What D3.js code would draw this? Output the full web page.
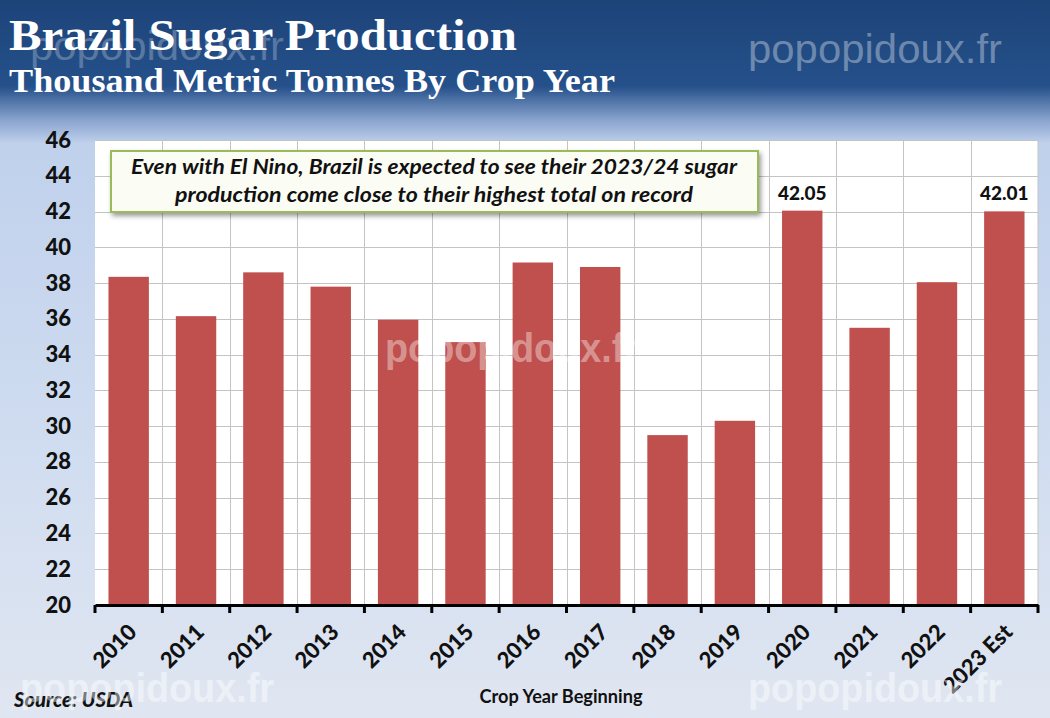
<!DOCTYPE html>
<html>
<head>
<meta charset="utf-8">
<script src="https://cdn.jsdelivr.net/npm/d3@7"></script>
<style>
  body { margin: 0; }
  svg { display: block; }
</style>
</head>
<body>
<svg></svg>
<script>
// chart data
const years = ['2010', '2011', '2012', '2013', '2014', '2015', '2016', '2017',
               '2018', '2019', '2020', '2021', '2022', '2023 Est'];
const production = [38.35, 36.15, 38.6, 37.8, 35.95, 34.7, 39.15, 38.9,
                    29.5, 30.3, 42.05, 35.5, 38.05, 42.01];
const labelled = ['2020', '2023 Est'];
const yTicks = [20, 22, 24, 26, 28, 30, 32, 34, 36, 38, 40, 42, 44, 46];

const size = {w: 1050, h: 718};
const plot = {l: 95, r: 1038, t: 140, b: 605};
const font = 'Lato, Open Sans, sans-serif';

const svg = d3.select('svg')
    .attr('width', size.w)
    .attr('height', size.h);

// background gradient (dark header fading to light blue)
const defs = svg.append('defs');
const bg = defs.append('linearGradient')
    .attr('id', 'bg')
    .attr('x1', 0).attr('x2', 0).attr('y1', 0).attr('y2', 1);
bg.append('stop').attr('offset', '0').attr('stop-color', '#1d4479');
bg.append('stop').attr('offset', '0.12').attr('stop-color', '#25508a');
bg.append('stop').attr('offset', '0.17').attr('stop-color', '#8ea8d2');
bg.append('stop').attr('offset', '0.2').attr('stop-color', '#c0d1ec');
bg.append('stop').attr('offset', '0.6').attr('stop-color', '#cfdcf0');
bg.append('stop').attr('offset', '1').attr('stop-color', '#e0e6f1');

const shadow = defs.append('filter').attr('id', 'shadow')
    .attr('x', '-5%').attr('y', '-20%').attr('width', '110%').attr('height', '150%');
shadow.append('feDropShadow')
    .attr('dx', 2).attr('dy', 3).attr('stdDeviation', 2.5)
    .attr('flood-color', '#000').attr('flood-opacity', 0.4);

svg.append('rect')
    .attr('width', size.w).attr('height', size.h)
    .attr('fill', 'url(#bg)');

// titles
svg.append('text')
    .attr('x', 9).attr('y', 50)
    .attr('font-family', 'Liberation Serif, DejaVu Serif, serif')
    .attr('font-weight', 'bold')
    .attr('font-size', 44)
    .attr('fill', '#fff')
    .attr('textLength', 508).attr('lengthAdjust', 'spacingAndGlyphs')
    .text('Brazil Sugar Production');

svg.append('text')
    .attr('x', 9).attr('y', 92)
    .attr('font-family', 'Liberation Serif, DejaVu Serif, serif')
    .attr('font-weight', 'bold')
    .attr('font-size', 33)
    .attr('fill', '#fff')
    .attr('textLength', 606).attr('lengthAdjust', 'spacingAndGlyphs')
    .text('Thousand Metric Tonnes By Crop Year');

// scales
const x = d3.scaleBand()
    .domain(years)
    .range([plot.l, plot.r])
    .paddingInner(0.4)
    .paddingOuter(0.2);

const xb = d3.scaleBand()
    .domain(years)
    .range([plot.l, plot.r]);

const y = d3.scaleLinear()
    .domain([20, 46])
    .range([plot.b, plot.t]);

// plot area
svg.append('rect')
    .attr('x', plot.l).attr('y', plot.t)
    .attr('width', plot.r - plot.l).attr('height', plot.b - plot.t)
    .attr('fill', '#fff');

// gridlines
const grid = svg.append('g').attr('stroke', '#c4c4c4').attr('stroke-width', 1);
grid.selectAll('line.h')
    .data(yTicks.slice(1))
    .enter().append('line')
    .attr('x1', plot.l).attr('x2', plot.r)
    .attr('y1', d => Math.round(y(d)) + 0.5)
    .attr('y2', d => Math.round(y(d)) + 0.5);
grid.selectAll('line.v')
    .data(years.slice(1).concat(['end']))
    .enter().append('line')
    .attr('x1', d => d === 'end' ? plot.r : Math.round(xb(d)) + 0.5)
    .attr('x2', d => d === 'end' ? plot.r : Math.round(xb(d)) + 0.5)
    .attr('y1', plot.t).attr('y2', plot.b);

// bars
svg.append('g')
    .selectAll('rect')
    .data(years)
    .enter().append('rect')
    .attr('x', d => x(d))
    .attr('width', x.bandwidth())
    .attr('y', (d, i) => y(production[i]))
    .attr('height', (d, i) => y(20) - y(production[i]))
    .attr('fill', '#c0504d');

// value labels
svg.append('g')
    .selectAll('text')
    .data(years.filter(d => labelled.includes(d)))
    .enter().append('text')
    .attr('x', d => xb(d) + xb.bandwidth() / 2)
    .attr('y', d => y(production[years.indexOf(d)]) - 11)
    .attr('text-anchor', 'middle')
    .attr('font-family', font)
    .attr('font-weight', 900)
    .attr('font-size', 19)
    .attr('fill', '#111')
    .text(d => production[years.indexOf(d)].toFixed(2));

// y axis
const yAxis = svg.append('g')
    .attr('transform', 'translate(' + plot.l + ',0)')
    .call(d3.axisLeft(y).tickValues(yTicks).tickSize(0).tickPadding(24));
yAxis.select('.domain').remove();
yAxis.selectAll('text')
    .attr('font-family', font)
    .attr('font-weight', 900)
    .attr('font-size', 22)
    .attr('fill', '#111');

// x axis
const xAxis = svg.append('g')
    .attr('transform', 'translate(0,' + plot.b + ')')
    .call(d3.axisBottom(xb).tickSize(0).tickFormat(''));
xAxis.select('.domain')
    .attr('stroke', '#000').attr('stroke-width', 3);

svg.append('g')
    .selectAll('line')
    .data(years.concat(['end']))
    .enter().append('line')
    .attr('x1', d => d === 'end' ? plot.r : xb(d))
    .attr('x2', d => d === 'end' ? plot.r : xb(d))
    .attr('y1', plot.b).attr('y2', plot.b + 8)
    .attr('stroke', '#000').attr('stroke-width', 3);

svg.append('g')
    .selectAll('text')
    .data(years)
    .enter().append('text')
    .attr('transform', d => 'translate(' + (xb(d) + xb.bandwidth() / 2 + 4) + ',' + (plot.b + 23) + ') rotate(-45)')
    .attr('text-anchor', 'end')
    .attr('dy', '0.35em')
    .attr('font-family', font)
    .attr('font-weight', 900)
    .attr('font-size', 22)
    .attr('fill', '#111')
    .text(d => d);

svg.append('text')
    .attr('x', 561).attr('y', 703)
    .attr('text-anchor', 'middle')
    .attr('font-family', font)
    .attr('font-weight', 'bold')
    .attr('font-size', 18)
    .attr('fill', '#111')
    .attr('textLength', 163).attr('lengthAdjust', 'spacingAndGlyphs')
    .text('Crop Year Beginning');

svg.append('text')
    .attr('x', 14).attr('y', 707)
    .attr('font-family', font)
    .attr('font-weight', 900)
    .attr('font-style', 'italic')
    .attr('font-size', 20)
    .attr('fill', '#111')
    .attr('textLength', 119).attr('lengthAdjust', 'spacingAndGlyphs')
    .text('Source: USDA');

// annotation box
const note = svg.append('g');
note.append('rect')
    .attr('x', 111).attr('y', 151)
    .attr('width', 647).attr('height', 61)
    .attr('fill', '#fbfcf4')
    .attr('stroke', '#9bbb59').attr('stroke-width', 2)
    .attr('filter', 'url(#shadow)');
note.selectAll('text')
    .data([{t: 'Even with El Nino, Brazil is expected to see their 2023/24 sugar', w: 606},
           {t: 'production come close to their highest total on record', w: 518}])
    .enter().append('text')
    .attr('x', 434)
    .attr('y', (d, i) => 174 + i * 28)
    .attr('text-anchor', 'middle')
    .attr('font-family', font)
    .attr('font-weight', 'bold')
    .attr('font-style', 'italic')
    .attr('font-size', 21)
    .attr('fill', '#111')
    .attr('textLength', d => d.w).attr('lengthAdjust', 'spacingAndGlyphs')
    .text(d => d.t);

// watermarks
const marks = [
    {x: 748, y: 63, op: 0.35, w: 'normal'},
    {x: 30, y: 60, op: 0.25, w: 'normal'},
    {x: 385, y: 362, op: 0.4, w: 'bold'},
    {x: 20, y: 702, op: 0.45, w: 'bold'},
    {x: 748, y: 702, op: 0.45, w: 'bold'}
];
svg.append('g')
    .selectAll('text')
    .data(marks)
    .enter().append('text')
    .attr('x', d => d.x).attr('y', d => d.y)
    .attr('font-family', 'Liberation Sans, Arial, sans-serif')
    .attr('font-weight', d => d.w)
    .attr('font-size', 40)
    .attr('fill', '#fff')
    .attr('fill-opacity', d => d.op)
    .attr('textLength', 254).attr('lengthAdjust', 'spacingAndGlyphs')
    .text('popopidoux.fr');
</script>
</body>
</html>
